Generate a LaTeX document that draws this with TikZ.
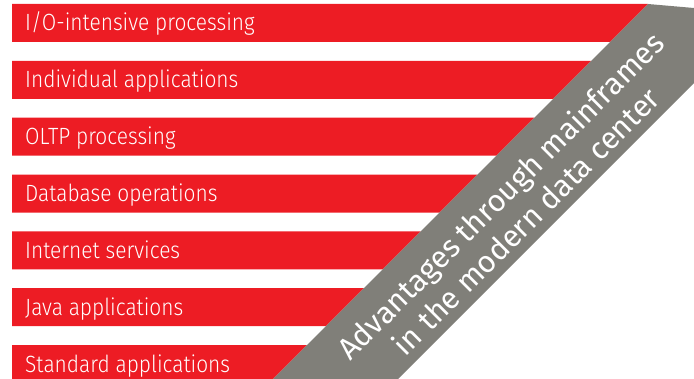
\documentclass[tikz,border=0pt]{standalone}
\usepackage{fontspec}
\newfontfamily\barfont[FakeStretch=0.89]{Fira Sans Light}
\newfontfamily\bandfont{Fira Sans}
\definecolor{fjred}{RGB}{237,28,36}
\definecolor{fjgray}{RGB}{128,127,121}
\begin{document}
\begin{tikzpicture}[x=1pt,y=-1pt,
  bartext/.style={anchor=base west,text=white,font=\barfont\fontsize{23.5}{23.5}\selectfont,inner sep=0pt},
  bandtext/.style={text=white,font=\bandfont\fontsize{30.5}{36}\selectfont,align=center,rotate=45,inner sep=0pt}]
\useasboundingbox (0,0) rectangle (694,379);
\foreach \t/\lab [count=\i] in {4/I\slash O-intensive processing,60.85/Individual applications,117.7/OLTP processing,174.55/Database operations,231.4/Internet services,288.25/Java applications,345.1/Standard applications}{
  \fill[fjred] (12,\t) -- ({652-\t},\t) -- ({652-\t-38},\t+38) -- (12,\t+38) -- cycle;
  \node[bartext] (bar\i) at (25,\t+27) {\lab};
}
\fill[fjgray] (273,379) -- (648,4) -- (694,8) -- (694,83) -- (398,379) -- cycle;
\node[bandtext] (band) at (513,208) {Advantages through mainframes\\in the modern data center};
\end{tikzpicture}
\end{document}
